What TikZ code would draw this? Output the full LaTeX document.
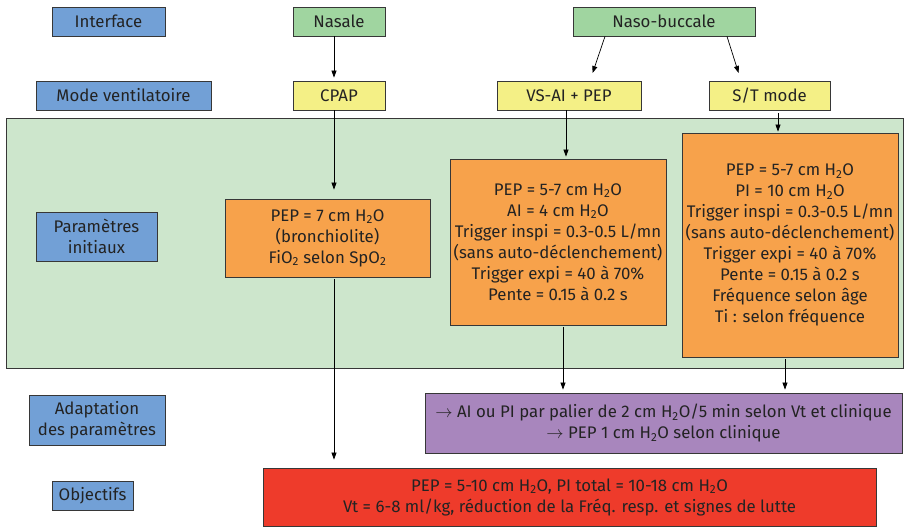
\documentclass[tikz,border=0pt]{standalone}
\usepackage{fontspec}
\setmainfont{Fira Sans}
\usetikzlibrary{arrows.meta}
\definecolor{lblue}{RGB}{114,160,214}
\definecolor{lgreen}{RGB}{160,213,160}
\definecolor{lyellow}{RGB}{244,240,134}
\definecolor{bggreen}{RGB}{205,230,204}
\definecolor{lorange}{RGB}{247,162,75}
\definecolor{lpurple}{RGB}{168,134,189}
\definecolor{lred}{RGB}{238,59,43}
\definecolor{bord}{RGB}{55,55,55}
\definecolor{txt}{RGB}{35,35,35}
\newcommand{\HtwoO}{H\textsubscript{2}O}
\begin{document}
\begin{tikzpicture}[x=1pt,y=-1pt,
  box/.style={draw=bord,line width=0.8pt,text=txt,inner sep=0pt,align=center,
    font=\fontsize{16.8}{21}\selectfont},
  labbox/.style={box,fill=lblue},
  ifbox/.style={box,fill=lgreen},
  modebox/.style={box,fill=lyellow},
  parbox/.style={box,fill=lorange},
  arr/.style={draw=black,line width=0.7pt,-{Triangle[length=7pt,width=5pt]}}]
\useasboundingbox (0,0) rectangle (904,529);
% background of initial parameters
\path[fill=bggreen,draw=bord,line width=0.8pt] (6,118) rectangle (903,368);
% left labels
\node[labbox,minimum width=113pt,minimum height=29pt] (interface) at (108.5,21.5) {Interface};
\node[labbox,minimum width=175pt,minimum height=29pt] (mode) at (123.5,95.5) {Mode ventilatoire};
\node[labbox,minimum width=121pt,minimum height=49pt] (param) at (96.5,236.5) {Paramètres\\initiaux};
\node[labbox,minimum width=136pt,minimum height=50pt] (adapt) at (97,420) {Adaptation\\des paramètres};
\node[labbox,minimum width=81pt,minimum height=29pt] (obj) at (92.5,495.5) {Objectifs};
% interfaces
\node[ifbox,minimum width=92pt,minimum height=29pt] (nasale) at (339,21.5) {Nasale};
\node[ifbox,minimum width=182pt,minimum height=29pt] (naso) at (664,21.5) {Naso-buccale};
% modes
\node[modebox,minimum width=92pt,minimum height=29pt] (cpap) at (339,95.5) {CPAP};
\node[modebox,minimum width=144pt,minimum height=29pt] (vsai) at (569,95.5) {VS-AI + PEP};
\node[modebox,minimum width=121pt,minimum height=29pt] (st) at (769.5,95.5) {S/T mode};
% parameters
\node[parbox,minimum width=205pt,minimum height=78pt] (cpapp) at (327.5,238)
  {PEP = 7 cm \HtwoO\\(bronchiolite)\\FiO\textsubscript{2} selon SpO\textsubscript{2}};
\node[parbox,minimum width=216pt,minimum height=166pt] (vsaip) at (558,242)
  {PEP = 5-7 cm \HtwoO\\AI = 4 cm \HtwoO\\Trigger inspi = 0.3-0.5 L/mn\\(sans auto-déclenchement)\\Trigger expi = 40 à 70\%\\Pente = 0.15 à 0.2 s};
\node[parbox,minimum width=216pt,minimum height=224pt] (stp) at (790,245)
  {PEP = 5-7 cm \HtwoO\\PI = 10 cm \HtwoO\\Trigger inspi = 0.3-0.5 L/mn\\(sans auto-déclenchement)\\Trigger expi = 40 à 70\%\\Pente = 0.15 à 0.2 s\\Fréquence selon âge\\Ti : selon fréquence};
% adaptation
\node[box,fill=lpurple,minimum width=477pt,minimum height=60pt] (adaptb) at (663.5,423)
  {$\rightarrow$ AI ou PI par palier de 2 cm \HtwoO/5 min selon Vt et clinique\\$\rightarrow$ PEP 1 cm \HtwoO{} selon clinique};
% objectives
\node[box,fill=lred,minimum width=613pt,minimum height=58pt] (objb) at (569.5,497)
  {PEP = 5-10 cm \HtwoO, PI total = 10-18 cm \HtwoO\\Vt = 6-8 ml/kg, réduction de la Fréq. resp. et signes de lutte};
% connectors
\draw[arr,shorten >=3pt] ([xshift=-5pt]nasale.south) -- ([xshift=-5pt]cpap.north);
\draw[arr,shorten >=9pt] ([xshift=-5pt]cpap.south) -- ([xshift=-5pt]cpap.south |- cpapp.north);
\draw[arr,shorten <=2pt,shorten >=8pt] ([xshift=6.5pt]cpapp.south) -- ([xshift=6.5pt]cpapp.south |- objb.north);
\draw[arr,shorten >=8pt] ([xshift=-59pt]naso.south) -- ([xshift=21pt]vsai.north);
\draw[arr,shorten >=8pt] ([xshift=63pt]naso.south) -- ([xshift=-28.5pt]st.north);
\draw[arr,shorten >=2pt] ([xshift=-3pt]vsai.south) -- ([xshift=-3pt]vsai.south |- vsaip.north);
\draw[arr,shorten <=3pt,shorten >=1pt] ([xshift=8.5pt]st.south) -- ([xshift=8.5pt]st.south |- stp.north);
\draw[arr,shorten <=2pt,shorten >=3pt] ([xshift=5pt]vsaip.south) -- ([xshift=5pt]vsaip.south |- adaptb.north);
\draw[arr,shorten <=2pt,shorten >=3pt] ([xshift=-5pt]stp.south) -- ([xshift=-5pt]stp.south |- adaptb.north);
\end{tikzpicture}
\end{document}
